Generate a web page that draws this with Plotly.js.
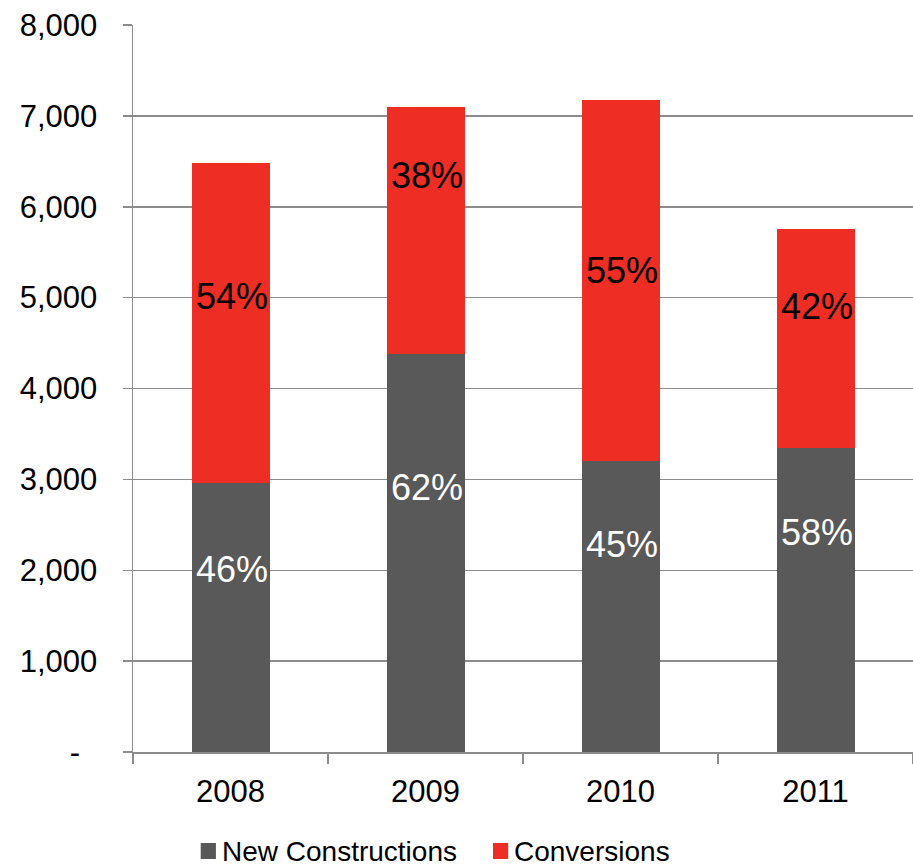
<!DOCTYPE html>
<html>
<head>
<meta charset="utf-8">
<script src="https://cdn.plot.ly/plotly-3.0.1.min.js"></script>
<style>html,body{margin:0;padding:0;background:#fff;}#chart{width:913px;height:866px;}</style>
</head>
<body>
<div id="chart"></div>
<script>
var years = ["2008", "2009", "2010", "2011"];
var seriesNames = ["New Constructions", "Conversions"];
var newConstructions = [2960, 4380, 3200, 3345];
var conversions = [3518, 2721, 3975, 2410];
var newPctLabels = ["46%", "62%", "45%", "58%"];
var convPctLabels = ["54%", "38%", "55%", "42%"];
var newLabelLevel = [2003, 2916, 2278, 2410];
var convLabelLevel = [5007, 6349, 5304, 4897];
var yTickVals = [0, 1000, 2000, 3000, 4000, 5000, 6000, 7000, 8000];
var yTickText = ["-\u00a0\u00a0", "1,000", "2,000", "3,000", "4,000", "5,000", "6,000", "7,000", "8,000"];

var GRAY = "#595959", RED = "#EE2D24", GRID = "#8c8c8c";
var FONT = "Liberation Sans, Arial, sans-serif";
var seriesColors = [GRAY, RED];

var traces = [
  {type: "bar", x: years, y: newConstructions, name: seriesNames[0], marker: {color: GRAY}, showlegend: false, hoverinfo: "skip"},
  {type: "bar", x: years, y: conversions, name: seriesNames[1], marker: {color: RED}, showlegend: false, hoverinfo: "skip"}
];

var annotations = [];
years.forEach(function (yr, i) {
  annotations.push({x: i + 0.2, y: newLabelLevel[i], xref: "x", yref: "y", text: newPctLabels[i], showarrow: false, xanchor: "right", yanchor: "middle", font: {family: FONT, size: 36, color: "#ffffff"}});
  annotations.push({x: i + 0.2, y: convLabelLevel[i], xref: "x", yref: "y", text: convPctLabels[i], showarrow: false, xanchor: "right", yanchor: "middle", font: {family: FONT, size: 36, color: "#000000"}});
});

// legend drawn in paper coordinates (swatch + label per series)
var legendSwatchX = [0.0868, 0.4615];
var shapes = [];
seriesNames.forEach(function (nm, k) {
  shapes.push({type: "rect", xref: "paper", yref: "paper", x0: legendSwatchX[k], x1: legendSwatchX[k] + 0.0195, y0: -0.1472, y1: -0.1252, fillcolor: seriesColors[k], line: {width: 0}});
  annotations.push({xref: "paper", yref: "paper", x: legendSwatchX[k] + 0.0262, y: -0.1365, text: nm, showarrow: false, xanchor: "left", yanchor: "middle", borderpad: 0, font: {family: FONT, size: 28, color: "#000000"}});
});

var layout = {
  width: 913, height: 866,
  margin: {l: 133, r: 0, t: 25, b: 114, pad: 0},
  paper_bgcolor: "#ffffff", plot_bgcolor: "#ffffff",
  barmode: "stack", bargap: 0.6,
  font: {family: FONT, color: "#000000"},
  xaxis: {
    type: "category", range: [-0.5, 3.5],
    showline: true, linecolor: GRID, linewidth: 1.5,
    ticks: "outside", tickson: "boundaries", ticklen: 10, tickcolor: GRID, tickwidth: 1.5,
    tickfont: {family: FONT, size: 31, color: "#000000"}, ticklabelstandoff: 11,
    showgrid: false, fixedrange: true, automargin: false
  },
  yaxis: {
    range: [0, 8000], tickmode: "array", tickvals: yTickVals, ticktext: yTickText,
    showline: true, linecolor: GRID, linewidth: 1.5,
    ticks: "outside", ticklen: 9, tickcolor: GRID, tickwidth: 1.5,
    showgrid: true, gridcolor: GRID, gridwidth: 1.5, zeroline: false,
    tickfont: {family: FONT, size: 31, color: "#000000"}, ticklabelstandoff: 19,
    fixedrange: true, automargin: false
  },
  showlegend: false,
  shapes: shapes,
  annotations: annotations
};

Plotly.newPlot("chart", traces, layout, {displayModeBar: false, staticPlot: true});
</script>
</body>
</html>
